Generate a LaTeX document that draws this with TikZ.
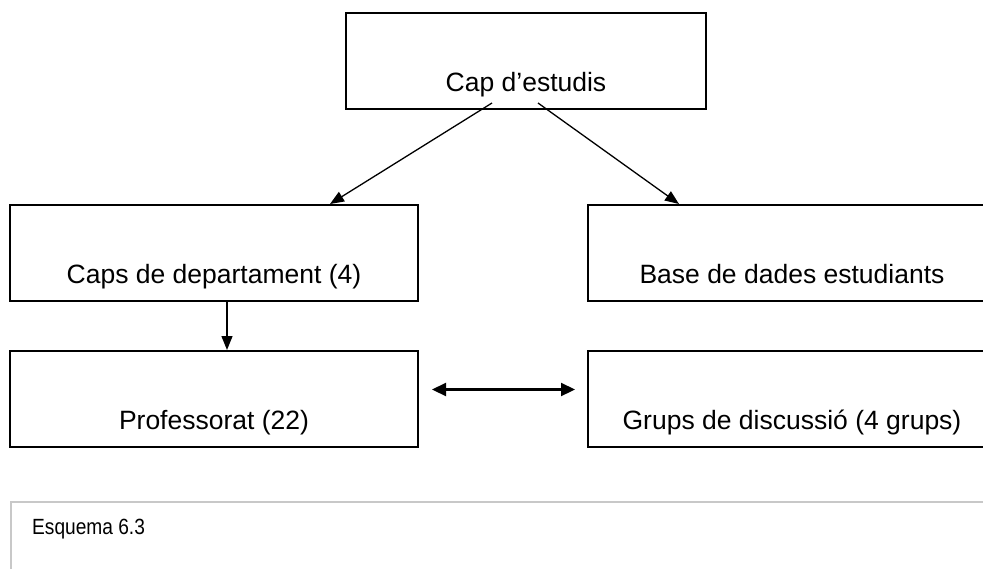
\documentclass[tikz,border=0pt]{standalone}
\usepackage{fontspec}
\setmainfont{Liberation Sans}
\newfontfamily\narrowfont{Liberation Sans}[FakeStretch=0.87]
\usepackage{tikz}
\usetikzlibrary{arrows.meta, positioning, calc}
\definecolor{framegray}{RGB}{200, 200, 200}

\begin{document}
\begin{tikzpicture}[
    x=1pt, y=-1pt,
    box/.style={draw, line width=2pt, minimum width=408pt, minimum height=96pt, inner sep=0pt,
                text height=78pt, text depth=18pt, align=center, font=\fontsize{26.5}{30}\selectfont},
    arrow/.style={-{Triangle[length=14pt, width=11pt]}, line width=1.3pt},
    twoway/.style={{Triangle[length=14pt, width=13pt]}-{Triangle[length=14pt, width=13pt]}, line width=2.2pt}
]
    \clip (0,0) rectangle (983,568);

    \node[box, minimum width=360pt] (cap) at (526,61) {Cap d’estudis};
    \node[box] (dept) at (214,253) {Caps de departament (4)};
    \node[box, right=168pt of dept] (base) {Base de dades estudiants};
    \node[box, below=48pt of dept] (prof) {Professorat (22)};
    \node[box, below=48pt of base] (grups) {Grups de discussió (4 grups)};

    \draw[arrow] ($(cap.south)+(-34,-7)$) -- ($(dept.north)+(116,0)$);
    \draw[arrow] ($(cap.south)+(12,-7)$) -- ($(base.north)+(-113,0)$);
    \draw[arrow] ($(dept.south)+(13,0)$) -- ($(prof.north)+(13,0)$);
    \draw[twoway] ($(prof.east)+(13,-9.5)$) -- ($(grups.west)+(-12,-9.5)$);

    % caption frame
    \draw[framegray, line width=2pt] (11,502) rectangle (1010,620);
    \node[anchor=base west, inner sep=0pt, font=\narrowfont\fontsize{22}{24}\selectfont] (esquema) at (32,534) {Esquema 6.3};
\end{tikzpicture}
\end{document}
